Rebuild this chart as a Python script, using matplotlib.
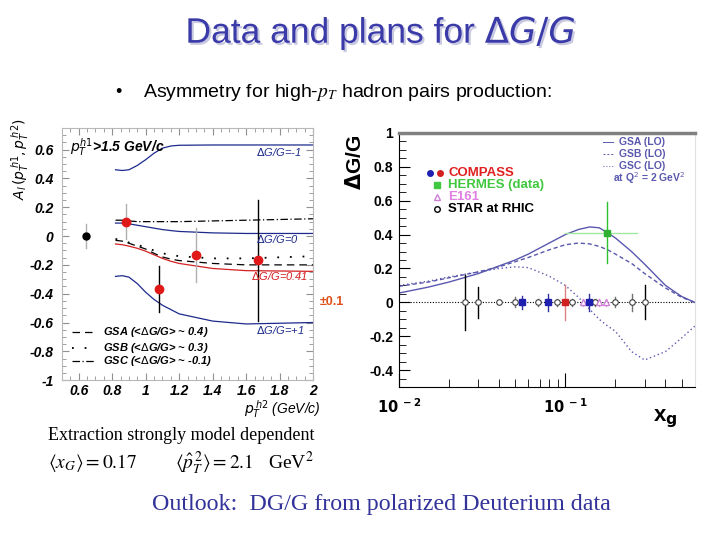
import numpy as np
import matplotlib
matplotlib.use("Agg")
import matplotlib.pyplot as plt
import matplotlib.patheffects as pe
from matplotlib.ticker import MultipleLocator, FixedLocator, NullFormatter

plt.rcParams['font.family'] = ['Liberation Sans', 'DejaVu Sans']

# ---- left panel: A_LL vs pT^h2 ----
pt_model = [0.82, 0.86, 0.9, 0.95, 1.0, 1.05, 1.1, 1.15, 1.2, 1.4, 1.6, 2.0]
dg_minus1 = [0.46, 0.455, 0.46, 0.49, 0.53, 0.575, 0.61, 0.625, 0.63, 0.632, 0.632, 0.632]
dg_zero = [0.09, 0.09, 0.085, 0.075, 0.065, 0.055, 0.045, 0.038, 0.032, 0.022, 0.018, 0.018]
dg_041 = [-0.055, -0.06, -0.07, -0.085, -0.105, -0.13, -0.155, -0.175, -0.19, -0.225, -0.24, -0.245]
dg_plus1 = [-0.28, -0.275, -0.285, -0.33, -0.39, -0.44, -0.48, -0.51, -0.54, -0.59, -0.61, -0.60]
gsa_left = [-0.03, -0.035, -0.05, -0.07, -0.09, -0.12, -0.145, -0.16, -0.17, -0.19, -0.2, -0.2]
gsb_left = [-0.02, -0.03, -0.045, -0.06, -0.08, -0.1, -0.12, -0.13, -0.14, -0.155, -0.155, -0.14]
gsc_left = [0.11, 0.11, 0.105, 0.1, 0.1, 0.1, 0.1, 0.1, 0.1, 0.105, 0.11, 0.12]

pt_data = [0.882, 1.081, 1.30, 1.67]
a_data = [0.10, -0.367, -0.132, -0.167]
a_err = [0.12, 0.16, 0.19, 0.42]
a_err_col = ['#b0b0b0', 'black', '#b0b0b0', 'black']
pt_star = [0.642]
a_star = [0.0]
a_star_err = [0.085]

# ---- right panel: dG/G vs x_g ----
xg_model = [0.01, 0.015, 0.02, 0.03, 0.04, 0.05, 0.06, 0.08, 0.1, 0.12, 0.14, 0.16,
            0.18, 0.2, 0.25, 0.3, 0.4, 0.5, 0.6]
gsa_lo = [0.055, 0.09, 0.12, 0.17, 0.215, 0.25, 0.285, 0.35, 0.4, 0.43, 0.445, 0.44,
          0.41, 0.38, 0.3, 0.225, 0.1, 0.035, 0.0]
gsb_lo = [0.095, 0.12, 0.145, 0.18, 0.21, 0.24, 0.265, 0.31, 0.34, 0.35, 0.345, 0.33,
          0.31, 0.285, 0.23, 0.17, 0.085, 0.03, 0.0]
gsc_lo = [0.1, 0.125, 0.15, 0.18, 0.2, 0.21, 0.205, 0.155, 0.1, 0.03, -0.04, -0.1,
          -0.14, -0.17, -0.29, -0.34, -0.29, -0.21, -0.14]

star_x = [0.025, 0.030, 0.040, 0.050, 0.069, 0.089, 0.11, 0.15, 0.2, 0.25, 0.3]
star_err = [0.16, 0.09, 0.01, 0.03, 0.02, 0.02, 0.02, 0.02, 0.03, 0.05, 0.1]
compass_blue_x = [0.055, 0.079, 0.139]
compass_blue_err = [0.04, 0.05, 0.05]
compass_red_x = [0.1]
compass_red_err = [0.105]
e161_x = [0.127, 0.16, 0.175]
e161_err = [0.02, 0.02, 0.02]
hermes_x = [0.178]
hermes_y = [0.41]
hermes_yerr = [0.18]
hermes_xlo = [0.1]
hermes_xhi = [0.27]

fig = plt.figure(figsize=(7.2, 5.4), dpi=100)

# ---- slide texts ----
fig.text(0.5285, 0.938, r'Data and plans for $\Delta G/G$', ha='center', va='center',
         fontsize=25.5, color='#3a3aa8', math_fontfamily='dejavusans',
         path_effects=[pe.withSimplePatchShadow(offset=(1.5, -1.5),
                                                shadow_rgbFace='#c8c8e0', alpha=1)])
fig.text(0.16, 0.828, u'\u2022', ha='left', va='center', fontsize=13)
fig.text(0.198, 0.828, r'Asymmetry for high-$p_T$ hadron pairs production:', ha='left',
         va='center', fontsize=14, math_fontfamily='stix')
fig.text(0.067, 0.194, 'Extraction strongly model dependent', ha='left', va='center',
         fontsize=13, family='Liberation Serif')
fig.text(0.067, 0.143, r'$\langle x_G\rangle = 0.17$', ha='left', va='center',
         fontsize=14, family='Liberation Serif', math_fontfamily='stix')
fig.text(0.243, 0.143, r'$\langle \hat{p}_T^{\,2}\rangle = 2.1$   GeV$^2$', ha='left',
         va='center', fontsize=14, family='Liberation Serif', math_fontfamily='stix')
fig.text(0.211, 0.065, 'Outlook:  DG/G from polarized Deuterium data', ha='left',
         va='center', fontsize=17.3, family='Liberation Serif', color='#33339a')

# ---- left axes ----
axl = fig.add_axes([0.086, 0.296, 0.349, 0.467])
navy = '#1c2a8c'
red = '#d42020'
axl.plot(pt_model, dg_minus1, color=navy, lw=0.9)
axl.plot(pt_model, dg_zero, color=navy, lw=0.9)
axl.plot(pt_model, dg_041, color=red, lw=0.9)
axl.plot(pt_model, dg_plus1, color=navy, lw=0.9)
axl.plot(pt_model, gsa_left, color='black', lw=0.9, ls=(0, (6, 4)))
axl.plot(pt_model, gsb_left, color='black', lw=1.3, ls=(0, (1, 6)))
axl.plot(pt_model, gsc_left, color='black', lw=0.9, ls=(0, (6, 2, 1, 2)))

for x, y, e, c in zip(pt_data, a_data, a_err, a_err_col):
    axl.plot([x, x], [y - e, y + e], color=c, lw=1.0, zorder=3)
axl.plot(pt_data, a_data, 'o', color='#e01818', ms=6, zorder=4)
for x, y, e in zip(pt_star, a_star, a_star_err):
    axl.plot([x, x], [y - e, y + e], color='#b0b0b0', lw=1.0, zorder=3)
axl.plot(pt_star, a_star, 'o', color='black', ms=5, zorder=4)

axl.set_xlim(0.5, 2.0)
axl.set_ylim(-1.0, 0.75)
axl.xaxis.set_major_locator(FixedLocator([0.6, 0.8, 1.0, 1.2, 1.4, 1.6, 1.8, 2.0]))
axl.xaxis.set_minor_locator(MultipleLocator(0.05))
axl.yaxis.set_major_locator(FixedLocator([-1, -0.8, -0.6, -0.4, -0.2, 0, 0.2, 0.4, 0.6]))
axl.yaxis.set_minor_locator(MultipleLocator(0.05))
axl.set_xticklabels(['0.6', '0.8', '1', '1.2', '1.4', '1.6', '1.8', '2'])
axl.set_yticklabels(['-1', '-0.8', '-0.6', '-0.4', '-0.2', '0', '0.2', '0.4', '0.6'])
for lab in axl.get_xticklabels() + axl.get_yticklabels():
    lab.set_fontweight('bold')
    lab.set_fontstyle('italic')
    lab.set_fontsize(10)
axl.tick_params(which='both', direction='in', top=True, right=True, color='#909090')
axl.tick_params(which='major', length=5)
axl.tick_params(axis='x', which='major', pad=3)
axl.tick_params(axis='y', which='major', pad=6)
axl.tick_params(which='minor', length=3)
for s in axl.spines.values():
    s.set_color('#b8b8b8')

lab_kw = dict(fontsize=8, style='italic', ha='left', va='center', math_fontfamily='dejavusans')
axl.text(1.66, 0.58, r'$\Delta$G/G=-1', color=navy, **lab_kw)
axl.text(1.66, -0.02, r'$\Delta$G/G=0', color=navy, **lab_kw)
axl.text(1.63, -0.275, r'$\Delta$G/G=0.41', color=red, **lab_kw)
axl.text(1.66, -0.65, r'$\Delta$G/G=+1', color=navy, **lab_kw)
axl.text(0.55, 0.615, r'$p_T^{h1}$>1.5 GeV/c', fontsize=10, fontweight='bold',
         style='italic', ha='left', va='center', math_fontfamily='dejavusans')

leg_y = [-0.667, -0.774, -0.87]
leg_ls = [(0, (6, 4)), (0, (1, 6)), (0, (6, 2, 1, 2))]
leg_lw = [0.9, 1.3, 0.9]
leg_txt = [r'GSA (<$\Delta$G/G> ~ 0.4)', r'GSB (<$\Delta$G/G> ~ 0.3)',
           r'GSC (<$\Delta$G/G> ~ -0.1)']
for y, ls, lw, t in zip(leg_y, leg_ls, leg_lw, leg_txt):
    axl.plot([0.56, 0.70], [y, y], color='black', ls=ls, lw=lw)
    axl.text(0.745, y, t, fontsize=8, fontweight='bold', style='italic', ha='left',
             va='center', math_fontfamily='dejavusans')

fig.text(0.444, 0.441, u'\u00b10.1', color='#e0501a', fontsize=9, fontweight='bold',
         ha='left', va='center')
fig.text(0.028, 0.705, r'$A_l\,(p_T^{\,h1},p_T^{\,h2})$', rotation=90, fontsize=10,
         ha='center', va='center', math_fontfamily='dejavusans')
fig.text(0.392, 0.243, r'$p_T^{\,h2}$ (GeV/c)', fontsize=10, style='italic',
         ha='center', va='center', math_fontfamily='dejavusans')

# ---- right axes ----
axr = fig.add_axes([0.554, 0.283, 0.411, 0.471])
curve_col = '#5a58ae'
axr.axhline(0, color='black', lw=0.8, ls=(0, (1, 1.5)), zorder=1)
axr.plot(xg_model, gsa_lo, color=curve_col, lw=1.0)
axr.plot(xg_model, gsb_lo, color=curve_col, lw=1.0, ls=(0, (3, 2)))
axr.plot(xg_model, gsc_lo, color=curve_col, lw=1.0, ls=(0, (1, 2)))

for x, e in zip(star_x, star_err):
    c = 'black' if e >= 0.09 else '#707070'
    axr.plot([x, x], [-e, e], color=c, lw=1.0, zorder=3)
axr.plot(star_x, [0] * len(star_x), 'o', mfc='white', mec='#404040', ms=4, mew=0.8, zorder=4)
for x, e in zip(compass_blue_x, compass_blue_err):
    axr.plot([x, x], [-e, e], color='#3030a0', lw=1.0, zorder=3)
axr.plot(compass_blue_x, [0] * len(compass_blue_x), 's', color='#2020b0', ms=4, zorder=5)
for x, e in zip(compass_red_x, compass_red_err):
    axr.plot([x, x], [-e, e], color='#e08080', lw=1.0, zorder=3)
axr.plot(compass_red_x, [0] * len(compass_red_x), 's', color='#d02020', ms=4, zorder=5)
for x, e in zip(e161_x, e161_err):
    axr.plot([x, x], [-e, e], color='#e0a0e0', lw=1.0, zorder=3)
axr.plot(e161_x, [0] * len(e161_x), '^', mfc='white', mec='#d080d8', ms=5, zorder=4)
for x, y, e, lo, hi in zip(hermes_x, hermes_y, hermes_yerr, hermes_xlo, hermes_xhi):
    axr.plot([lo, hi], [y, y], color='#a0e8a0', lw=1.0, zorder=3)
    axr.plot([x, x], [y - e, y + e], color='#30c030', lw=1.0, zorder=3)
axr.plot(hermes_x, hermes_y, 's', color='#30b030', ms=4, zorder=5)

axr.set_xscale('log')
axr.set_xlim(0.01, 0.6)
axr.set_ylim(-0.5, 1.0)
axr.xaxis.set_major_locator(FixedLocator([0.01, 0.1]))
axr.xaxis.set_minor_locator(FixedLocator([0.02, 0.03, 0.04, 0.05, 0.06, 0.07, 0.08, 0.09,
                                           0.2, 0.3, 0.4, 0.5]))
axr.xaxis.set_minor_formatter(NullFormatter())
axr.set_xticklabels([r'$\mathbf{10^{\ -2}}$', r'$\mathbf{10^{\ -1}}$'])
axr.yaxis.set_major_locator(FixedLocator([-0.4, -0.2, 0, 0.2, 0.4, 0.6, 0.8, 1.0]))
axr.yaxis.set_minor_locator(MultipleLocator(0.05))
axr.set_yticklabels(['-0.4', '-0.2', '0', '0.2', '0.4', '0.6', '0.8', '1'])
for lab in axr.get_yticklabels():
    lab.set_fontweight('bold')
    lab.set_fontsize(10)
for lab in axr.get_xticklabels():
    lab.set_fontsize(10.5)
axr.tick_params(which='both', direction='in')
axr.tick_params(axis='y', which='major', length=8, pad=4)
axr.tick_params(axis='y', which='minor', length=5)
axr.tick_params(axis='x', which='major', length=10, pad=7)
axr.tick_params(axis='x', which='minor', length=6)
axr.spines['top'].set_color('#808080')
axr.spines['top'].set_linewidth(2.5)
axr.spines['right'].set_color('#e0e0e0')

# data legend
lx = 0.166
lfs = 9.5
axr.plot([0.105], [0.843], 'o', color='#2020b0', ms=4, transform=axr.transAxes)
axr.plot([0.139], [0.843], 'o', color='#d02020', ms=4, transform=axr.transAxes)
axr.text(lx, 0.843, 'COMPASS', color='#e02020', fontsize=lfs, fontweight='bold',
         transform=axr.transAxes, ha='left', va='center')
axr.plot([0.128], [0.795], 's', color='#40c840', ms=4, transform=axr.transAxes)
axr.text(lx, 0.795, 'HERMES (data)', color='#40c840', fontsize=lfs, fontweight='bold',
         transform=axr.transAxes, ha='left', va='center')
axr.plot([0.128], [0.748], '^', mfc='white', mec='#d080d8', ms=5, transform=axr.transAxes)
axr.text(lx, 0.748, 'E161', color='#e080e0', fontsize=lfs, fontweight='bold',
         transform=axr.transAxes, ha='left', va='center')
axr.plot([0.128], [0.70], 'o', mfc='white', mec='black', ms=4, transform=axr.transAxes)
axr.text(lx, 0.70, 'STAR at RHIC', color='black', fontsize=lfs, fontweight='bold',
         transform=axr.transAxes, ha='left', va='center')

# model legend
ml_y = [0.965, 0.917, 0.87]
ml_ls = ['-', (0, (2, 2)), (0, (1, 2))]
ml_txt = ['GSA (LO)', 'GSB (LO)', 'GSC (LO)']
for y, ls, t in zip(ml_y, ml_ls, ml_txt):
    axr.plot([0.69, 0.725], [y, y], color=curve_col, lw=0.7, ls=ls, transform=axr.transAxes)
    axr.text(0.745, y, t, color=curve_col, fontsize=7.5, fontweight='bold',
             transform=axr.transAxes, ha='left', va='center')
axr.text(0.725, 0.823, r'at Q$^2$ = 2 GeV$^2$', color=curve_col, fontsize=7.5,
         fontweight='bold', transform=axr.transAxes, ha='left', va='center')

fig.text(0.493, 0.70, r'$\mathbf{\Delta}$G/G', rotation=90, fontsize=15, fontweight='bold',
         ha='center', va='center')
fig.text(0.924, 0.225, r'x$_\mathbf{g}$', fontsize=16, fontweight='bold',
         ha='center', va='center')

fig.savefig('out.png', dpi=100)
